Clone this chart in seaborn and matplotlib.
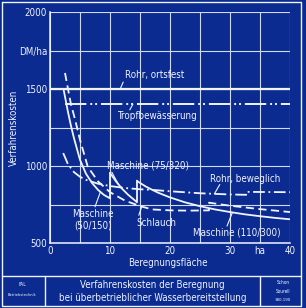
import numpy as np
import pandas as pd
import matplotlib
matplotlib.use("Agg")
import matplotlib.pyplot as plt
from matplotlib.lines import Line2D
import seaborn as sns

# ---------------- data ----------------
rohr_ortsfest_x = [0, 40]
rohr_ortsfest_y = [1500, 1500]

tropf_x = [2.5, 40]
tropf_y = [1400, 1400]

m50_x = [2.3, 3, 3.5, 4, 5, 6, 7, 8, 9, 10, 10]
m50_y = [1490, 1350, 1260, 1180, 1040, 950, 890, 845, 812, 790, 955]

m75_x = [10, 11, 12, 13, 14.5, 14.5]
m75_y = [955, 900, 853, 814, 765, 905]

m110_x = [14.5, 15, 16, 17, 18, 20, 22.5, 25, 27.5, 30, 32.5, 35, 37.5, 40]
m110_y = [903, 890, 866, 846, 827, 796, 764, 739, 718, 701, 686, 674, 663, 654]

schlauch_x = [2.5, 3, 3.5, 4.2, 5, 6.3, 8, 10, 12.5, 15, 17, 20, 23, 26.5, 26.5, 30, 35, 40]
schlauch_y = [1604, 1500, 1400, 1299, 1170, 995, 900, 830, 775, 740, 718, 712, 710, 712, 762, 742, 720, 701]

rohr_bew_x = [2.2, 3, 4, 5, 6, 8, 10, 12.5, 15, 17, 20, 25, 30, 32.7, 32.7, 36, 40]
rohr_bew_y = [1084, 1011, 960, 930, 910, 885, 870, 857, 849, 845, 836, 823, 815, 813, 832, 831, 830]

x_ticks = [0, 5, 10, 15, 20, 25, 30, 35, 40]
x_ticklabels = ["0", "", "10", "", "20", "", "30", "ha", "40"]
y_ticks = [500, 750, 1000, 1250, 1500, 1750, 2000]
y_ticklabels = ["500", "", "1000", "", "1500", "DM/ha", "2000"]

# ---------------- style ----------------
BG = "#0b2b90"
FG = "#f0f4ff"
GRID = "#cfdaf7"

sns.set_theme(style="dark", rc={"axes.facecolor": BG, "figure.facecolor": BG})
plt.rcParams["font.family"] = ["DejaVu Sans"]
plt.rcParams["font.stretch"] = "condensed"

fig = plt.figure(figsize=(3.06, 3.08), dpi=100)
fig.patch.set_facecolor(BG)
ax = fig.add_axes([50 / 306, 1 - 243 / 308, 240 / 306, 231 / 308])
ax.set_facecolor(BG)

lw = 1.3
sns.lineplot(x=rohr_ortsfest_x, y=rohr_ortsfest_y, sort=False, estimator=None,
             ax=ax, color=FG, lw=1.6)
sns.lineplot(x=tropf_x, y=tropf_y, sort=False, estimator=None, ax=ax, color=FG,
             lw=1.4, linestyle=(0, (11, 2, 1, 1.5, 1, 2)))
sns.lineplot(x=m50_x, y=m50_y, sort=False, estimator=None, ax=ax, color=FG, lw=lw)
sns.lineplot(x=m75_x, y=m75_y, sort=False, estimator=None, ax=ax, color=FG, lw=lw)
sns.lineplot(x=m110_x, y=m110_y, sort=False, estimator=None, ax=ax, color=FG, lw=lw)
sns.lineplot(x=schlauch_x, y=schlauch_y, sort=False, estimator=None, ax=ax, color=FG,
             lw=lw, linestyle=(0, (4.5, 2.5)))
sns.lineplot(x=rohr_bew_x, y=rohr_bew_y, sort=False, estimator=None, ax=ax, color=FG,
             lw=lw, linestyle=(0, (6.5, 2, 1, 2)))

ax.set_xlim(0, 40)
ax.set_ylim(500, 2000)
ax.set_xticks(x_ticks)
ax.set_xticklabels(x_ticklabels)
ax.set_yticks(y_ticks)
ax.set_yticklabels(y_ticklabels)
ax.grid(True, color=GRID, lw=0.8)
ax.tick_params(axis="both", length=0, colors=FG, labelsize=7, pad=2)
for s in ["top", "right"]:
    ax.spines[s].set_visible(False)
for s in ["left", "bottom"]:
    ax.spines[s].set_color(FG)
    ax.spines[s].set_linewidth(1.1)
ax.set_xlabel("")
ax.set_ylabel("")

# ---------------- curve labels ----------------
tkw = dict(color=FG, fontsize=7, ha="center", va="center")
lkw = dict(arrowprops=dict(arrowstyle="-", color=FG, lw=0.8, shrinkA=0, shrinkB=0))


def leader(text, tx, ty, ax_, ay_, cx, xs, ys):
    ax.text(tx, ty, text, **tkw)
    cy = float(np.interp(cx, xs, ys))
    ax.annotate("", xy=(cx, cy), xytext=(ax_, ay_), **lkw)


leader("Rohr, ortsfest", 17.5, 1591, 12.2, 1545, 11.7, rohr_ortsfest_x, rohr_ortsfest_y)
leader("Tropfbewässerung", 17.8, 1325, 13.3, 1365, 13.8, tropf_x, tropf_y)
leader("Maschine (75/320)", 16.3, 1000, 10.3, 960, 11.4, m75_x[:5], m75_y[:5])
leader("Rohr, beweglich", 32.6, 913, 28.3, 880, 27.4, rohr_bew_x, rohr_bew_y)
leader("Maschine\n(50/150)", 7.2, 650, 7.5, 735, 8.4, m50_x[:10], m50_y[:10])
leader("Schlauch", 17.8, 633, 14.8, 680, 15.3, schlauch_x, schlauch_y)
leader("Maschine (110/300)", 31.2, 570, 29.5, 610, 30.4, m110_x, m110_y)

# ---------------- figure texts and frame ----------------
fig.text(14 / 306, 1 - 128 / 308, "Verfahrenskosten", rotation=90, color=FG,
         fontsize=7, ha="center", va="center")
fig.text(168 / 306, 1 - 263 / 308, "Beregnungsfläche", color=FG,
         fontsize=7, ha="center", va="center")

fig.text(152 / 306, 1 - 285 / 308, "Verfahrenskosten der Beregnung", color=FG,
         fontsize=7, ha="center", va="center")
fig.text(153 / 306, 1 - 298 / 308, "bei überbetrieblicher Wasserbereitstellung",
         color=FG, fontsize=7, ha="center", va="center")
fig.text(22 / 306, 1 - 285 / 308, "FAL", color=FG, fontsize=3.6, ha="center", va="center")
fig.text(22 / 306, 1 - 295 / 308, "Betriebstechnik", color=FG, fontsize=2.9,
         ha="center", va="center")
fig.text(283 / 306, 1 - 283 / 308, "Schon", color=FG, fontsize=3.4, ha="center", va="center")
fig.text(283 / 306, 1 - 291.5 / 308, "Sourell", color=FG, fontsize=3.4, ha="center", va="center")
fig.text(283 / 306, 1 - 300 / 308, "380.190", color=FG, fontsize=3.2, ha="center", va="center")


def fline(xs, ys, lw_=1.0):
    fig.add_artist(Line2D([x / 306 for x in xs], [1 - y / 308 for y in ys],
                          transform=fig.transFigure, color=FG, lw=lw_))


fline([1.5, 301, 301, 1.5, 1.5], [1.5, 1.5, 305.5, 305.5, 1.5], 1.0)
fline([1.5, 301], [276, 276], 1.0)
fline([45, 45], [276, 305.5], 1.0)
fline([260, 260], [276, 305.5], 1.0)

fig.savefig("out.png", dpi=100, facecolor=BG)
